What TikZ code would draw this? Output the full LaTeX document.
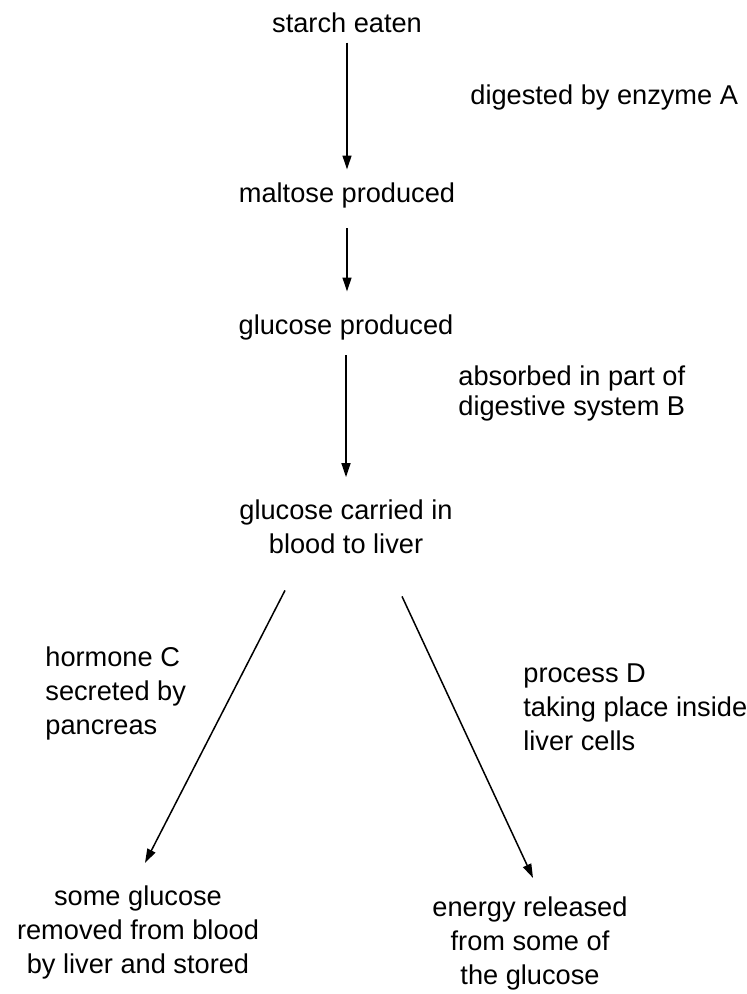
\documentclass[tikz,border=0pt]{standalone}
\usepackage{fontspec}
\setmainfont{Liberation Sans}
\usetikzlibrary{arrows.meta, positioning}
\tikzset{
  stage/.style={font=\fontsize{13.6}{17}\selectfont, align=center, inner sep=1pt},
  note/.style={font=\fontsize{13.6}{17}\selectfont, align=left, anchor=west, inner sep=0pt},
  flow/.style={-{Triangle[length=7pt, width=4.4pt]}, line width=1pt},
}

\begin{document}
\begin{tikzpicture}[x=0.5pt, y=-0.5pt]
  \useasboundingbox (0,0) rectangle (747,994);
  %% main chain down the middle
  \node[stage] (starch)  at (347,23)  {starch eaten};
  \node[stage] (maltose) at (347,195) {maltose produced};
  \node[stage] (glucose) at (346,327) {glucose produced};
  \node[stage] (liver)   at (346,527) {glucose carried in\\blood to liver};
  %% the two ends
  \node[stage] (stored) at (138,932) {some glucose\\removed from blood\\by liver and stored};
  \node[stage] (energy) at (530,943) {energy released\\from some of\\the glucose};
  %% notes beside the arrows
  \node[note] (enzymeA) at (470,97)  {digested by enzyme A};
  \node[note, font=\fontsize{13.6}{15}\selectfont] (partB) at (458,393) {absorbed in part of\\digestive system B};
  \node[note] (hormC)   at (45,693)  {hormone C\\secreted by\\pancreas};
  \node[note] (procD)   at (523,707) {process D\\taking place inside\\liver cells};
  %% arrows
  \draw[flow, shorten <=3.6pt, shorten >=5.2pt] (starch.south) -- (starch.south |- maltose.north);
  \draw[flow, shorten <=9.2pt, shorten >=10.2pt] (maltose.south) -- (maltose.south |- glucose.north);
  \draw[flow, shorten <=6.7pt, shorten >=10.2pt] (glucose.south) -- (glucose.south |- liver.north);
  \draw[flow, line width=0.75pt] ([shift={(-61,34)}]liver.south) -- ([shift={(7,-20)}]stored.north);
  \draw[flow, line width=0.75pt] ([shift={(56,40)}]liver.south) -- ([shift={(3,-16)}]energy.north);
\end{tikzpicture}
\end{document}
